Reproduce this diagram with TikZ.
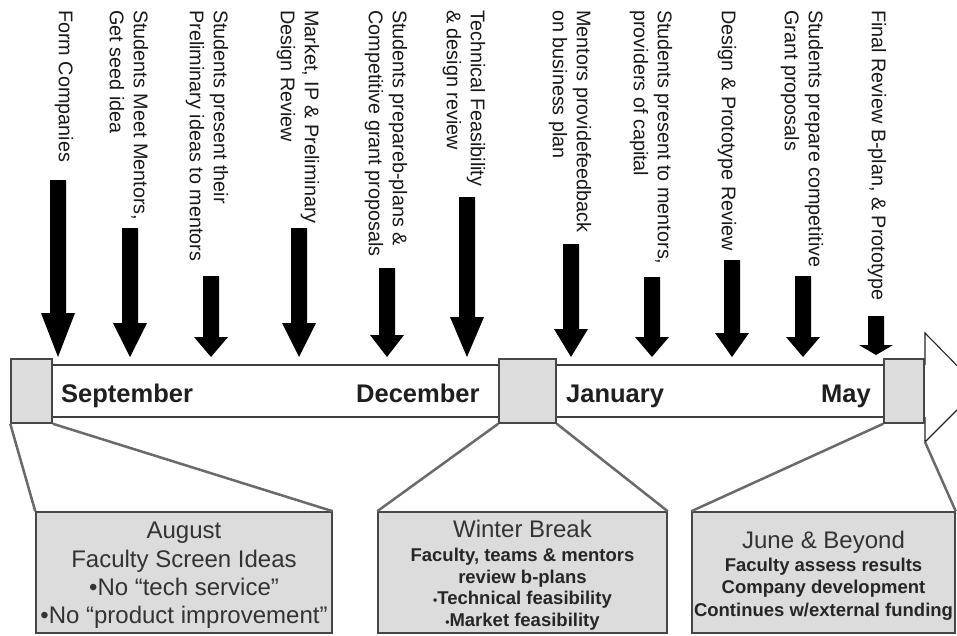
\documentclass[tikz,border=0pt]{standalone}
\usepackage{fontspec}
\setmainfont{Liberation Sans}
\definecolor{boxfill}{HTML}{DCDCDC}
\definecolor{boxline}{HTML}{474747}
\definecolor{conn}{HTML}{6A6A6A}
\definecolor{bandline}{HTML}{404040}
\tikzset{
 vlabel/.style={rotate=-90, anchor=west, align=left, inner sep=0pt, font=\fontsize{19.8}{24}\selectfont, text=black!90},
 month/.style={anchor=base west, inner sep=0pt, font=\fontsize{25.5}{30}\selectfont\bfseries, text=black!88},
 graysq/.style={draw=boxline, line width=1.5pt, fill=boxfill, inner sep=0pt},
 infobox/.style={draw=boxline, line width=1.5pt, fill=boxfill, inner sep=0pt},
 boxtitle/.style={anchor=base, inner sep=0pt, font=\fontsize{24}{28}\selectfont, text=black!80},
 boxbold/.style={anchor=base, inner sep=0pt, font=\fontsize{18.5}{22}\selectfont\bfseries, text=black!85},
 zoomline/.style={draw=conn, line width=2.5pt},
 blockarrow/.style={fill=black},
}
\newcommand\DownArr[5]{% name, x, top, headstart, tip
 \fill[blockarrow] (#2-8,#3) -- (#2+8,#3) -- (#2+8,#4) -- (#2+17,#4) -- (#2,#5) -- (#2-17,#4) -- (#2-8,#4) -- cycle;
 \coordinate (#1) at (#2,#5);
}
\begin{document}
\begin{tikzpicture}[x=1pt,y=-1pt]
\clip (0,0) rectangle (957,635);
\fill[white] (0,0) rectangle (957,635);

% main timeline arrow
\fill[white] (11,365) -- (925,365) -- (925,333) -- (979,388) -- (925,442) -- (925,417) -- (11,417) -- cycle;
\draw[bandline, line width=2.5pt] (11,365) -- (925,365);
\draw[bandline, line width=2.5pt] (11,417) -- (925,417);
\draw[black!85, line width=1.1pt] (925,365) -- (925,333) -- (979,388) -- (925,442) -- (925,417);
\coordinate (headlow) at (925,442);

% squares and boxes
\node[graysq, minimum width=41pt, minimum height=64pt] (sqA) at (31.5,391) {};
\node[graysq, minimum width=57pt, minimum height=64pt] (sqB) at (527.5,391) {};
\node[graysq, minimum width=40pt, minimum height=64pt] (sqC) at (904,391) {};

\node[infobox, minimum width=296pt, minimum height=121pt] (boxA) at (184,572.5) {};
\node[infobox, minimum width=289pt, minimum height=121pt] (boxB) at (522.5,572.5) {};
\node[infobox, minimum width=263pt, minimum height=121pt] (boxC) at (823.5,572.5) {};

% zoom connectors
\draw[zoomline] (sqA.south west) -- (boxA.north west);
\draw[zoomline] (sqA.south east) -- (boxA.north east);
\draw[zoomline] (sqB.south west) -- (boxB.north west);
\draw[zoomline] (sqB.south east) -- (boxB.north east);
\draw[zoomline] (sqC.south west) -- (boxC.north west);
\draw[zoomline] (headlow) -- (boxC.north east);

% month labels
\node[month] (sep) at (61,402) {September};
\node[month] (dec) at (356,402) {December};
\node[month] (jan) at (566,402) {January};
\node[month] (may) at (821,402) {May};

% box texts
\node[boxtitle] (a1) at (184,538) {August};
\node[boxtitle] (a2) at (184,567) {Faculty Screen Ideas};
\node[boxtitle] (a3) at (184,595) {\textbullet No “tech service”};
\node[boxtitle] (a4) at (184,623) {\textbullet No “product improvement”};

\node[boxtitle] (b1) at (522.5,537) {Winter Break};
\node[boxbold] (b2) at (522.5,561) {Faculty, teams \& mentors};
\node[boxbold] (b3) at (522.5,583) {review b-plans};
\node[boxbold] (b4) at (522.5,604.5) {{\fontsize{12}{12}\selectfont\textbullet}Technical feasibility};
\node[boxbold] (b5) at (522.5,626) {{\fontsize{12}{12}\selectfont\textbullet}Market feasibility};

\node[boxtitle] (c1) at (823.5,548) {June \& Beyond};
\node[boxbold] (c2) at (823.5,571) {Faculty assess results};
\node[boxbold] (c3) at (823.5,593) {Company development};
\node[boxbold] (c4) at (823.5,616) {Continues w/external funding};

% block arrows
\DownArr{t1}{58}{180}{313}{357}
\DownArr{t2}{130}{228}{323}{357}
\DownArr{t3}{211}{276}{337}{357}
\DownArr{t4}{299}{228}{323}{357}
\DownArr{t5}{387}{268}{335}{357}
\DownArr{t6}{467}{197}{317}{357}
\DownArr{t7}{571}{244}{329}{357}
\DownArr{t8}{652}{277}{337}{357}
\DownArr{t9}{732}{260}{333}{357}
\DownArr{t10}{803}{276}{337}{357}
\DownArr{t11}{876}{316}{345}{355}

% vertical labels
\node[vlabel] (l1) at (64,10) {Form Companies};
\node[vlabel] (l2) at (129,10) {Students Meet Mentors,\\Get seed idea};
\node[vlabel] (l3) at (207,10) {Students present their\\Preliminary ideas to mentors};
\node[vlabel] (l4) at (298,10) {Market, IP \& Preliminary\\Design Review};
\node[vlabel] (l5) at (386,10) {Students prepareb-plans \&\\Competitive grant proposals};
\node[vlabel] (l6) at (464,10) {Technical Feasibility\\\& design review};
\node[vlabel] (l7) at (570,10) {Mentors providefeedback\\on business plan};
\node[vlabel] (l8) at (651,10) {Students present to mentors,\\providers of capital};
\node[vlabel] (l9) at (727,10) {Design \& Prototype Review};
\node[vlabel] (l10) at (802,10) {Students prepare competitive\\Grant proposals};
\node[vlabel] (l11) at (877,10) {Final Review B-plan, \& Prototype};
\end{tikzpicture}
\end{document}
